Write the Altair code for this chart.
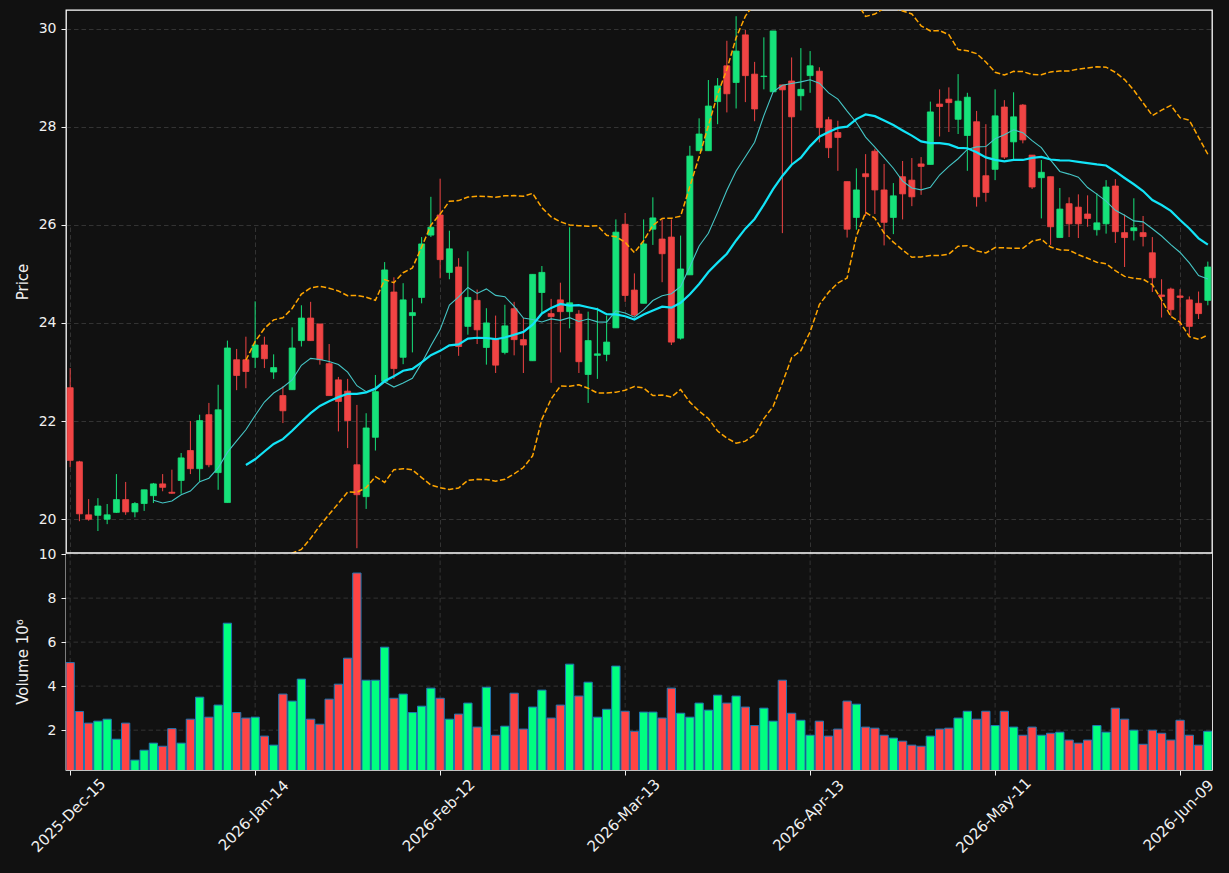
import json
import altair as alt
import pandas as pd

tick_labels = ["2025-Dec-15", "2026-Jan-14", "2026-Feb-12", "2026-Mar-13",
               "2026-Apr-13", "2026-May-11", "2026-Jun-09"]
tick_pos = [0, 20, 40, 60, 80, 100, 120]
price_ticks = [20, 22, 24, 26, 28, 30]
volume_ticks = [2, 4, 6, 8, 10]

opens = [
    22.68, 21.17, 20.09, 20.08, 20.00, 20.14, 20.40, 20.15, 20.32, 20.48,
    20.72, 20.55, 20.79, 21.40, 21.03, 22.13, 20.95, 20.34, 23.25, 23.25,
    23.30, 23.55, 23.00, 22.52, 22.64, 23.64, 24.10, 23.98, 23.17, 22.84,
    22.61, 21.11, 20.46, 21.67, 22.81, 24.63, 23.30, 24.15, 24.52, 25.79,
    26.20, 25.03, 25.14, 23.93, 24.46, 23.50, 23.68, 23.40, 24.29, 23.66,
    23.23, 24.62, 24.19, 24.47, 24.23, 24.18, 22.95, 23.34, 23.36, 23.90,
    26.01, 24.67, 24.40, 25.91, 25.71, 25.75, 23.69, 24.98, 27.51, 27.51,
    28.51, 29.24, 28.90, 29.87, 29.07, 29.02, 28.71, 28.85, 28.93, 28.63,
    29.04, 29.13, 28.14, 27.88, 26.88, 26.15, 27.04, 27.50, 26.71, 26.15,
    26.98, 26.91, 27.24, 27.23, 28.46, 28.56, 28.15, 27.82, 28.10, 27.00,
    27.13, 28.40, 27.69, 28.44, 27.42, 26.96, 26.98, 25.74, 26.43, 26.36,
    26.22, 25.90, 26.02, 26.79, 25.84, 25.88, 25.84, 25.43, 24.57, 24.69,
    24.55, 24.47, 24.40, 24.46]

closes = [
    21.20, 20.11, 20.00, 20.27, 20.09, 20.40, 20.15, 20.32, 20.60, 20.72,
    20.65, 20.53, 21.25, 21.03, 22.01, 21.11, 22.23, 23.49, 22.93, 23.01,
    23.55, 23.27, 23.09, 22.21, 23.49, 24.10, 23.64, 23.25, 22.52, 22.40,
    22.01, 20.50, 21.86, 22.60, 25.08, 23.07, 24.47, 24.21, 25.61, 25.95,
    25.29, 25.51, 23.52, 24.52, 23.86, 24.00, 23.14, 23.94, 23.66, 23.55,
    24.99, 25.03, 24.13, 24.23, 24.41, 23.21, 23.64, 23.37, 23.61, 25.85,
    24.56, 24.16, 25.61, 26.14, 25.41, 23.61, 25.10, 27.40, 27.85, 28.42,
    28.83, 28.67, 29.54, 29.04, 28.36, 29.03, 29.95, 28.75, 28.20, 28.76,
    29.24, 27.98, 27.57, 27.78, 25.91, 26.71, 26.98, 26.71, 26.05, 26.59,
    26.63, 26.57, 27.19, 28.30, 28.41, 28.49, 28.52, 28.60, 26.57, 26.66,
    28.22, 27.38, 28.20, 27.73, 26.77, 27.07, 25.96, 26.32, 26.02, 26.02,
    26.13, 26.04, 26.77, 25.86, 25.74, 25.94, 25.76, 24.92, 24.54, 24.27,
    24.52, 23.93, 24.19, 25.14]

highs = [
    23.08, 21.19, 20.41, 20.43, 20.31, 20.92, 20.76, 20.35, 20.60, 20.74,
    20.92, 21.01, 21.35, 22.00, 22.13, 22.37, 22.74, 23.64, 23.47, 23.72,
    24.44, 23.72, 23.36, 22.71, 23.91, 24.36, 24.43, 23.98, 23.57, 22.90,
    22.86, 22.33, 22.16, 22.94, 25.24, 24.93, 24.81, 24.50, 25.75, 26.57,
    26.94, 25.88, 25.32, 25.46, 24.68, 24.30, 24.15, 24.37, 24.43, 24.10,
    24.99, 25.16, 24.49, 24.82, 25.95, 24.26, 24.23, 24.31, 24.15, 26.11,
    26.24, 25.01, 26.11, 26.56, 26.11, 26.11, 25.78, 27.61, 28.17, 28.95,
    28.99, 29.75, 30.25, 29.97, 29.32, 29.82, 29.95, 28.85, 29.41, 29.60,
    29.54, 29.21, 28.20, 28.12, 26.88, 27.15, 27.44, 27.55, 27.24, 26.85,
    27.30, 27.36, 27.38, 28.51, 28.76, 28.80, 29.07, 28.69, 28.32, 28.05,
    28.76, 28.54, 28.70, 28.46, 27.42, 27.32, 26.98, 26.75, 26.56, 26.62,
    26.60, 26.64, 26.91, 26.93, 26.21, 26.54, 26.18, 25.75, 24.89, 24.72,
    24.69, 24.54, 24.64, 25.25]

lows = [
    21.06, 19.96, 19.97, 19.76, 19.90, 20.13, 20.09, 20.04, 20.17, 20.33,
    20.57, 20.52, 20.52, 20.92, 20.77, 21.06, 20.60, 20.34, 22.63, 22.67,
    23.08, 23.08, 22.86, 21.96, 22.64, 23.52, 23.64, 23.15, 22.52, 21.79,
    21.45, 19.41, 20.21, 21.40, 22.78, 22.86, 23.16, 23.40, 24.40, 25.75,
    24.91, 24.89, 23.33, 23.76, 23.57, 23.15, 22.98, 23.36, 23.34, 22.98,
    23.23, 24.19, 22.78, 23.40, 23.89, 22.98, 22.37, 22.86, 23.22, 23.90,
    24.43, 24.14, 24.40, 25.59, 24.83, 23.55, 23.66, 24.98, 27.51, 27.51,
    28.05, 28.29, 28.37, 28.50, 28.11, 28.76, 28.71, 25.83, 27.24, 28.33,
    28.69, 27.68, 27.36, 27.10, 25.74, 25.90, 26.18, 26.22, 25.58, 25.81,
    26.11, 26.38, 26.61, 27.23, 27.80, 27.89, 27.85, 27.10, 26.37, 26.47,
    26.91, 27.34, 27.32, 27.66, 26.73, 26.13, 25.59, 25.74, 25.75, 25.73,
    25.96, 25.78, 25.82, 25.63, 25.14, 25.68, 25.56, 24.63, 24.11, 24.14,
    23.94, 23.74, 24.08, 24.36]

volumes = [
    5.07, 2.85, 2.32, 2.41, 2.50, 1.59, 2.32, 0.64, 1.09, 1.41,
    1.27, 2.07, 1.41, 2.50, 3.50, 2.59, 3.14, 6.86, 2.80, 2.55,
    2.59, 1.73, 1.32, 3.64, 3.32, 4.32, 2.50, 2.27, 3.41, 4.09,
    5.27, 9.14, 4.27, 4.27, 5.77, 3.45, 3.64, 2.80, 3.09, 3.91,
    3.45, 2.50, 2.73, 3.23, 2.14, 3.95, 1.77, 2.18, 3.68, 2.05,
    3.05, 3.82, 2.55, 3.14, 5.00, 3.55, 4.18, 2.59, 2.95, 4.91,
    2.86, 1.95, 2.82, 2.82, 2.55, 3.91, 2.77, 2.59, 3.23, 2.91,
    3.59, 3.23, 3.55, 3.05, 2.21, 3.00, 2.41, 4.27, 2.77, 2.45,
    1.77, 2.41, 1.73, 2.05, 3.32, 3.18, 2.14, 2.09, 1.77, 1.64,
    1.50, 1.32, 1.27, 1.73, 2.05, 2.09, 2.55, 2.86, 2.50, 2.86,
    2.21, 2.86, 2.14, 1.77, 2.14, 1.77, 1.86, 1.91, 1.55, 1.41,
    1.55, 2.21, 1.91, 3.00, 2.50, 2.00, 1.36, 2.00, 1.86, 1.55,
    2.45, 1.77, 1.32, 1.95]

df = pd.DataFrame({
    "i": list(range(len(closes))),
    "open": opens, "high": highs, "low": lows, "close": closes, "vol": volumes,
})

W, H = 1146, 760
PRICE_H = 543
BG = "#111111"
UP_C, DN_C = "#16e27a", "#f04444"
VUP_C, VDN_C = "#00ff80", "#ff4444"
GRID = "#3c3c3c"
DASH = [4.5, 3]
TXT = "#f0f0f0"

up_cond = "datum.close >= datum.open"

label_expr = f"{json.dumps(tick_labels)}[round(datum.value / 20)]"
x_scale = alt.Scale(domain=[-0.45, 123.45], nice=False, zero=False, padding=0)
x_axis = alt.Axis(values=tick_pos, labelExpr=label_expr, labelAngle=-45,
                  labelAlign="center", labelBaseline="middle", labelPadding=40,
                  labelOffset=-2, labelFontSize=15,
                  tickSize=5, grid=True, gridDash=DASH, gridColor=GRID,
                  gridWidth=0.8, domain=False, title=None)


def X(field="i"):
    return alt.X(f"{field}:Q", scale=x_scale, axis=x_axis)


p_scale = alt.Scale(domain=[19.312, 30.377], range=[PRICE_H, 0], nice=False, zero=False)
p_axis = alt.Axis(values=price_ticks, title="Price", orient="left",
                  grid=True, gridDash=DASH, gridColor=GRID, gridWidth=0.8,
                  tickSize=5, labelPadding=5, titlePadding=8, domain=False)

v_scale = alt.Scale(domain=[0.19, 10.05], range=[H, PRICE_H], nice=False, zero=False)
v_axis = alt.Axis(values=volume_ticks, title="Volume  10⁶", orient="left",
                  grid=False, tickSize=5, labelPadding=5, titlePadding=8, domain=False)

base = alt.Chart(df)
col = alt.condition(up_cond, alt.value(UP_C), alt.value(DN_C))

wicks = base.mark_rule(strokeWidth=1, clip=True).encode(
    x=X(), y=alt.Y("low:Q", scale=p_scale, axis=p_axis), y2="high:Q", color=col)

bodies = base.mark_bar(size=6, strokeWidth=0.8, clip=True).encode(
    x=X(), y=alt.Y("open:Q", scale=p_scale, axis=p_axis), y2="close:Q",
    color=col, stroke=col)

ma10 = base.transform_window(
    ma10="mean(close)", frame=[-9, 0], sort=[alt.SortField("i")]
).transform_filter("datum.i >= 9").mark_line(
    color="#45c6c6", strokeWidth=1.1, clip=True
).encode(x=X(), y=alt.Y("ma10:Q", scale=p_scale, axis=p_axis))

w20 = base.transform_window(
    ma20="mean(close)", sd20="stdev(close)", frame=[-19, 0], sort=[alt.SortField("i")]
).transform_filter("datum.i >= 19").transform_calculate(
    upper="datum.ma20 + 2 * datum.sd20",
    lower="datum.ma20 - 2 * datum.sd20",
)

ma20 = w20.mark_line(color="#12e4f7", strokeWidth=2.2, clip=True).encode(
    x=X(), y=alt.Y("ma20:Q", scale=p_scale, axis=p_axis))
bb_up = w20.mark_line(color="#ffa500", strokeWidth=1.5, strokeDash=[5.5, 2.4], clip=True).encode(
    x=X(), y=alt.Y("upper:Q", scale=p_scale, axis=p_axis))
bb_lo = w20.mark_line(color="#ffa500", strokeWidth=1.5, strokeDash=[5.5, 2.4], clip=True).encode(
    x=X(), y=alt.Y("lower:Q", scale=p_scale, axis=p_axis))

price = alt.layer(wicks, bodies, ma10, ma20, bb_up, bb_lo)

one = pd.DataFrame({"a": [0]})

# volume panel background (keeps price overlays inside their own panel)
mask = alt.Chart(one).mark_rect(color=BG).encode(
    x=alt.value(0), x2=alt.value(W), y=alt.value(PRICE_H), y2=alt.value(H))

vgrid_x = alt.Chart(pd.DataFrame({"t": tick_pos})).mark_rule(
    color=GRID, strokeWidth=0.8, strokeDash=DASH
).encode(x=X("t"), y=alt.value(PRICE_H), y2=alt.value(H))

vgrid_y = alt.Chart(pd.DataFrame({"g": volume_ticks})).mark_rule(
    color=GRID, strokeWidth=0.8, strokeDash=DASH
).encode(y=alt.Y("g:Q", scale=v_scale, axis=v_axis), x=alt.value(0), x2=alt.value(W))

vol_bars = base.mark_bar(size=8.3, stroke="#1f77b4", strokeWidth=1, clip=True).encode(
    x=X(), y=alt.Y("vol:Q", scale=v_scale, axis=v_axis), y2=alt.datum(0),
    color=alt.condition(up_cond, alt.value(VUP_C), alt.value(VDN_C)))

volume = alt.layer(mask, vgrid_x, vgrid_y, vol_bars)

sep = alt.Chart(one).mark_rule(color="white", strokeWidth=1.6).encode(
    x=alt.value(0), x2=alt.value(W), y=alt.value(PRICE_H))

chart = alt.layer(price, volume, sep).resolve_scale(y="independent").properties(
    width=W, height=H,
    autosize=alt.AutoSizeParams(type="none"),
    padding={"left": 66, "top": 10, "right": 17, "bottom": 103},
    background=BG,
).configure_view(
    stroke="white", strokeWidth=1.3, fill=BG
).configure_axis(
    labelColor=TXT, titleColor=TXT, tickColor=TXT, labelFont="DejaVu Sans",
    titleFont="DejaVu Sans", labelFontSize=14, titleFontSize=15,
    titleFontWeight="normal",
)

chart.save("out.html", embed_options={"renderer": "svg", "actions": False})
